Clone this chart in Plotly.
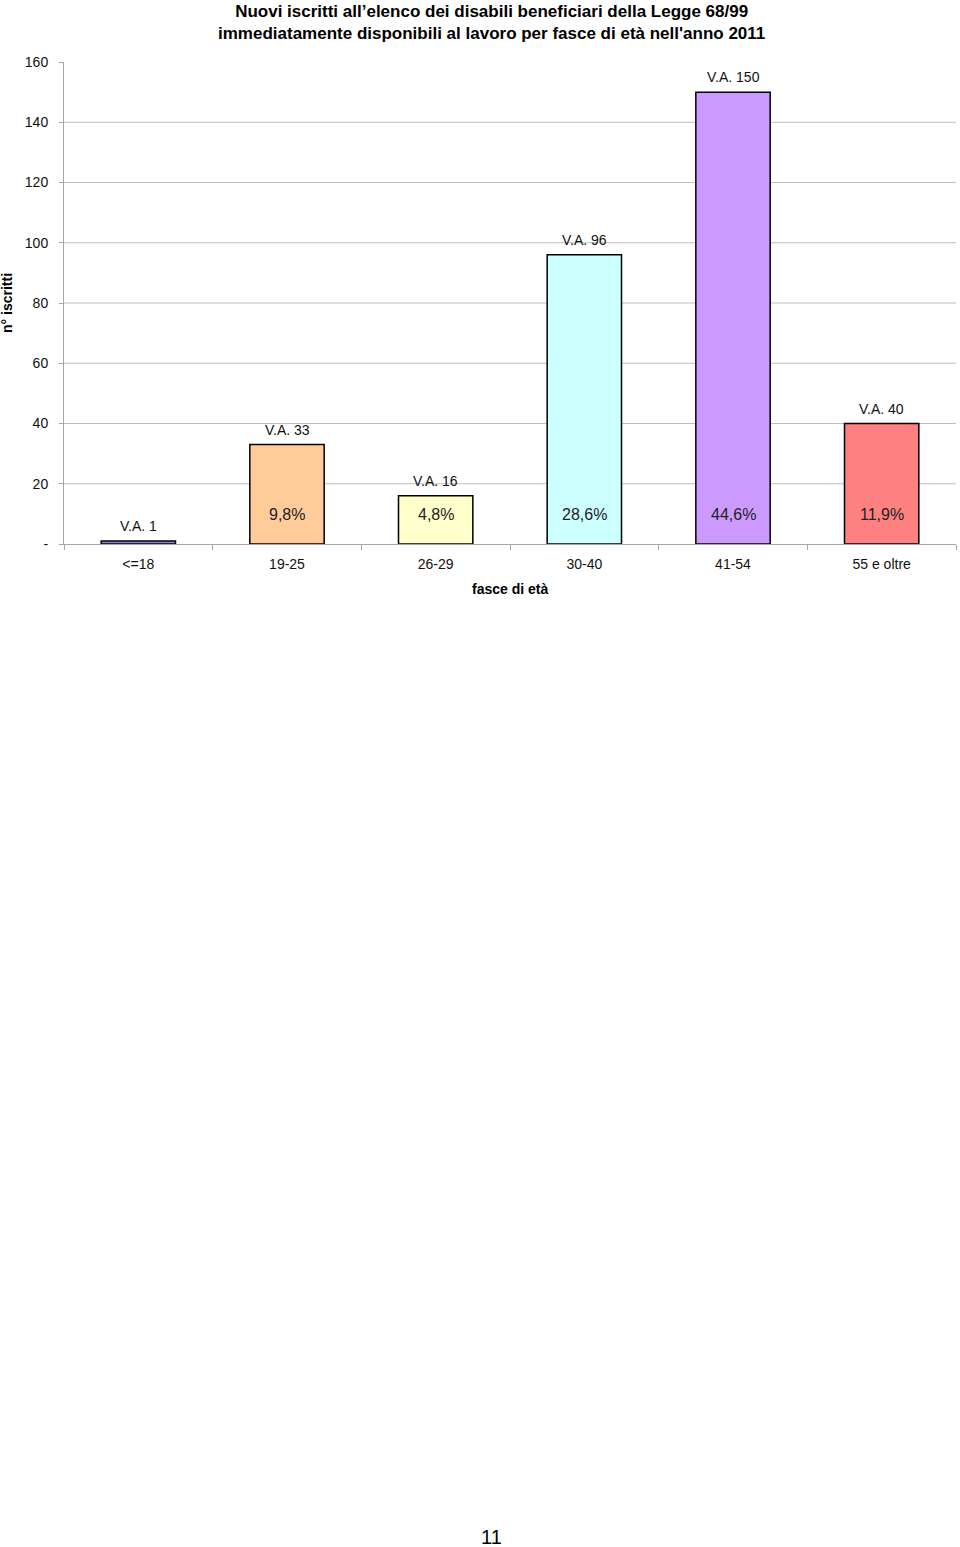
import plotly.graph_objects as go

categories = ["<=18", "19-25", "26-29", "30-40", "41-54", "55 e oltre"]
values = [1, 33, 16, 96, 150, 40]
percent_labels = ["", "9,8%", "4,8%", "28,6%", "44,6%", "11,9%"]
bar_colors = ["#8A8AD8", "#FFCC99", "#FFFFCC", "#CCFFFF", "#CC99FF", "#FF8080"]
y_tickvals = [0, 20, 40, 60, 80, 100, 120, 140, 160]
y_ticktext = ["-", "20", "40", "60", "80", "100", "120", "140", "160"]
grid_vals = [20, 40, 60, 80, 100, 120, 140]
percent_y = 10

title_text = ("Nuovi iscritti all\u2019elenco dei disabili beneficiari della Legge 68/99<br>"
              "immediatamente disponibili al lavoro per fasce di età nell'anno 2011")

FONT = "Liberation Sans, Arial, sans-serif"

# plot area: x 64..956, y 62..544 (pixels)
PX0, PX1, PY0, PY1 = 64, 956, 62, 544
def px_to_paper_x(px):
    return (px - PX0) / (PX1 - PX0)

fig = go.Figure()
fig.add_trace(go.Bar(
    x=categories, y=values, width=0.5,
    marker=dict(color=bar_colors, line=dict(color="#000000", width=1.5)),
    hoverinfo="skip",
))

annotations = []
for c, v in zip(categories, values):
    annotations.append(dict(x=c, y=v, xref="x", yref="y", text=f"V.A. {v}",
                            showarrow=False, yanchor="bottom", yshift=5,
                            font=dict(family=FONT, size=14, color="#111111")))
for c, p in zip(categories, percent_labels):
    if p:
        annotations.append(dict(x=c, y=percent_y, xref="x", yref="y", text=p,
                                showarrow=False, yanchor="middle", yshift=-1,
                                font=dict(family=FONT, size=16, color="#222222")))
annotations.append(dict(x=0, y=0.5, xref="paper", yref="paper", xshift=-57,
                        text="<b>n° iscritti</b>", textangle=-90, showarrow=False,
                        xanchor="center", yanchor="middle",
                        font=dict(family=FONT, size=14, color="#000000")))
annotations.append(dict(x=0.5, y=0, xref="paper", yref="paper", yshift=-45,
                        text="<b>fasce di età</b>", showarrow=False,
                        xanchor="center", yanchor="middle",
                        font=dict(family=FONT, size=14, color="#000000")))
annotations.append(dict(x=px_to_paper_x(491), y=0, xref="paper", yref="paper",
                        yshift=-(1537 - PY1), text="11", showarrow=False,
                        xanchor="center", yanchor="middle",
                        font=dict(family=FONT, size=20, color="#000000")))
annotations.append(dict(x=px_to_paper_x(491), y=1, xref="paper", yref="paper",
                        yshift=(PY0 - 0), text=f"<b>{title_text}</b>", showarrow=False,
                        xanchor="center", yanchor="top", align="center",
                        font=dict(family=FONT, size=17, color="#000000")))

shapes = [dict(type="line", xref="paper", yref="y", x0=0, x1=1, y0=g, y1=g,
               line=dict(color="#BFBFBF", width=1), layer="below") for g in grid_vals]

fig.update_layout(
    width=960, height=1547,
    margin=dict(l=64, r=4, t=62, b=1003),
    paper_bgcolor="white", plot_bgcolor="white",
    showlegend=False,
    annotations=annotations,
    shapes=shapes,
    bargap=0.5,
)
fig.update_xaxes(
    type="category", showline=True, linecolor="#A6A6A6", linewidth=1,
    ticks="outside", tickson="boundaries", ticklen=5, tickcolor="#A6A6A6",
    showgrid=False, tickfont=dict(family=FONT, size=14, color="#111111"),
    ticklabelstandoff=7,
)
fig.update_yaxes(
    range=[0, 160], tickvals=y_tickvals, ticktext=y_ticktext,
    showline=True, linecolor="#A6A6A6", linewidth=1, showgrid=False, zeroline=False,
    ticks="outside", ticklen=4, tickcolor="#A6A6A6",
    tickfont=dict(family=FONT, size=14, color="#111111"), ticklabelstandoff=8,
)

fig.write_html("out.html")
